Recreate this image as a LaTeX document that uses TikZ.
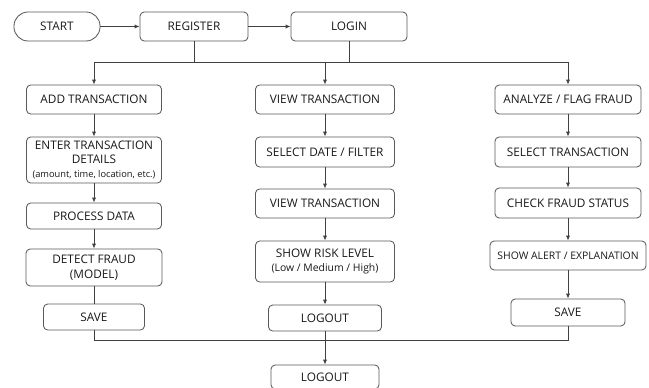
\documentclass[tikz,border=0pt]{standalone}
\usepackage{fontspec}
\setmainfont{Open Sans}
\usepackage{tikz}
\usetikzlibrary{arrows.meta, positioning}
\tikzset{
    box/.style = {draw=black!65, line width=0.6pt, rounded corners=3pt, align=center,
        inner sep=1pt, text=black!90, font=\fontsize{8.4}{10.2}\selectfont},
    startbox/.style = {box, rounded corners=10pt},
    flow/.style = {draw=black!75, line width=0.6pt},
    arr/.style = {flow, -{Latex[length=3.5pt,width=3pt]}},
}
\newcommand{\sub}[1]{{\fontsize{6.6}{8}\selectfont #1}}

\begin{document}
\begin{tikzpicture}[x=0.025cm, y=-0.025cm]
        \useasboundingbox (0,0) rectangle (649,387);

        % top row
        \node[startbox, minimum width=2.15cm, minimum height=0.725cm] (start) at (57, 26.5) {START};
        \node[box, minimum width=2.7cm, minimum height=0.725cm] (register) at (194, 26.5) {REGISTER};
        \node[box, minimum width=2.9cm, minimum height=0.725cm] (login) at (349, 26.5) {LOGIN};

        % left column
        \node[box, minimum width=3.375cm, minimum height=0.725cm] (addtx) at (94, 99.5) {ADD TRANSACTION};
        \node[box, minimum width=3.375cm, minimum height=1.15cm] (enter) at (94, 160) {ENTER TRANSACTION\\DETAILS\\\sub{(amount, time, location, etc.)}};
        \node[box, minimum width=3.375cm, minimum height=0.65cm] (process) at (94, 216) {PROCESS DATA};
        \node[box, minimum width=3.4cm, minimum height=0.925cm] (detect) at (94, 267.5) {DETECT FRAUD\\(MODEL)};
        \node[box, minimum width=2.525cm, minimum height=0.65cm] (save1) at (94, 317) {SAVE};

        % middle column
        \node[box, minimum width=3.475cm, minimum height=0.725cm] (viewtx) at (325, 99.5) {VIEW TRANSACTION};
        \node[box, minimum width=3.475cm, minimum height=0.75cm] (seldate) at (325, 152) {SELECT DATE / FILTER};
        \node[box, minimum width=3.475cm, minimum height=0.725cm] (viewtx2) at (325, 203.5) {VIEW TRANSACTION};
        \node[box, minimum width=3.475cm, minimum height=1.025cm] (risk) at (325, 261.5) {SHOW RISK LEVEL\\{\fontsize{7.4}{9.6}\selectfont (Low / Medium / High)}};
        \node[box, minimum width=2.825cm, minimum height=0.65cm] (logout1) at (325, 318) {LOGOUT};

        % right column
        \node[box, minimum width=3.65cm, minimum height=0.725cm] (analyze) at (568, 99.5) {ANALYZE / FLAG FRAUD};
        \node[box, minimum width=3.65cm, minimum height=0.75cm] (seltx) at (568, 152) {SELECT TRANSACTION};
        \node[box, minimum width=3.65cm, minimum height=0.75cm] (check) at (568, 203) {CHECK FRAUD STATUS};
        \node[box, minimum width=3.9cm, minimum height=0.725cm] (alert) at (568, 255.5) {\fontsize{7.4}{9}\selectfont SHOW ALERT / EXPLANATION};
        \node[box, minimum width=2.85cm, minimum height=0.675cm] (save3) at (568, 312.5) {SAVE};

        % end
        \node[box, minimum width=2.7cm, minimum height=0.6cm] (logout) at (325, 377) {LOGOUT};

        \coordinate (bus) at (0, 62);
        \coordinate (join) at (0, 340);

        \draw[arr] (start) -- (register);
        \draw[arr] (register) -- (login);
        \draw[flow] (register.south) -- (register |- bus);
        \draw[flow] (login.south) -- (login |- bus);
        \draw[flow] (addtx |- bus) -- (analyze |- bus);
        \draw[arr] (addtx |- bus) -- (addtx);
        \draw[arr] (viewtx |- bus) -- (viewtx);
        \draw[arr] (analyze |- bus) -- (analyze);

        \draw[arr] (addtx) -- (enter);
        \draw[arr] (enter) -- (process);
        \draw[arr] (process) -- (detect);
        \draw[flow] (detect) -- (save1);

        \draw[arr] (viewtx) -- (seldate);
        \draw[arr] (seldate) -- (viewtx2);
        \draw[arr] (viewtx2) -- (risk);
        \draw[arr] (risk) -- (logout1);

        \draw[arr] (analyze) -- (seltx);
        \draw[arr] (seltx) -- (check);
        \draw[arr] (check) -- (alert);
        \draw[arr] (alert) -- (save3);

        \draw[flow] (save1.south) -- (save1 |- join) -- (save3 |- join) -- (save3.south);
        \draw[arr] (logout1) -- (logout);
    \end{tikzpicture}
\end{document}
